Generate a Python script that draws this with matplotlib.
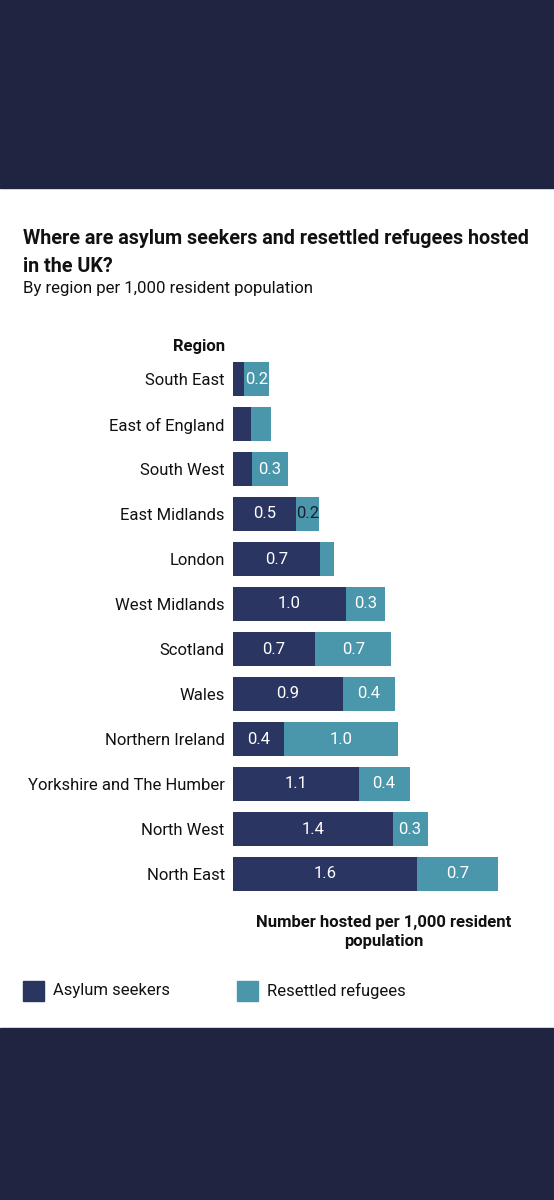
import matplotlib
matplotlib.use("Agg")
import matplotlib.pyplot as plt
from matplotlib.patches import Rectangle

plt.rcParams['font.family'] = ['Roboto', 'DejaVu Sans']

# values (per 1,000 resident population)
regions = ["South East", "East of England", "South West", "East Midlands", "London",
           "West Midlands", "Scotland", "Wales", "Northern Ireland",
           "Yorkshire and The Humber", "North West", "North East"]
asylum = [0.09, 0.155, 0.165, 0.54, 0.74, 0.96, 0.70, 0.94, 0.435, 1.07, 1.36, 1.57]
resettled = [0.22, 0.17, 0.30, 0.19, 0.12, 0.34, 0.65, 0.44, 0.97, 0.435, 0.30, 0.69]

NAVY = "#2b3562"
TEAL = "#4a97ab"
BAND = "#1f2540"
INK = "#111111"

W, H = 554, 1200
fig = plt.figure(figsize=(W / 100, H / 100), dpi=100, facecolor="white")

# dark bands top and bottom
fig.patches.append(Rectangle((0, 1 - 188 / H), 1, 188 / H, transform=fig.transFigure,
                             color=BAND, zorder=0))
fig.patches.append(Rectangle((0, 0), 1, 1 - 1028 / H, transform=fig.transFigure,
                             color=BAND, zorder=0))

# axes: 117.3 px per unit, bars pitched 45 px apart
x0 = 233
ppu = 117.3
xmax = 2.7
top_px = 379 - 22.5
ax = fig.add_axes([x0 / W, 1 - (top_px + 540) / H, xmax * ppu / W, 540 / H])
ax.set_facecolor("none")

y = list(range(len(regions)))
ax.barh(y, asylum, height=0.76, color=NAVY)
ax.barh(y, resettled, left=asylum, height=0.76, color=TEAL)

def put_label(xc, yc, v):
    if v < 0.18:
        return
    col = "white" if v >= 0.2 else "#1a1f35"
    ax.text(xc, yc, f"{v:.1f}", ha="center", va="center", color=col, fontsize=12)

for i in y:
    put_label(asylum[i] / 2, i, asylum[i])
    put_label(asylum[i] + resettled[i] / 2, i, resettled[i])

ax.set_xlim(0, xmax)
ax.set_ylim(-0.5, len(regions) - 0.5)
ax.invert_yaxis()
ax.set_yticks(y)
ax.set_yticklabels(regions, fontsize=12, color=INK)
ax.tick_params(axis="y", length=0, pad=6)
ax.set_xticks([])
for s in ax.spines.values():
    s.set_visible(False)

# texts
fig.text(23 / W, 1 - 239 / H, "Where are asylum seekers and resettled refugees hosted",
         fontsize=14.2, fontweight="bold", color=INK, va="center")
fig.text(23 / W, 1 - 266 / H, "in the UK?",
         fontsize=14.2, fontweight="bold", color=INK, va="center")
fig.text(23 / W, 1 - 288 / H, "By region per 1,000 resident population",
         fontsize=12.1, color=INK, va="center")
fig.text(225 / W, 1 - 346 / H, "Region", fontsize=12, fontweight="bold",
         color=INK, ha="right", va="center")
fig.text(384 / W, 1 - 932 / H, "Number hosted per 1,000 resident\npopulation",
         fontsize=12, fontweight="bold", color=INK, ha="center", va="center",
         linespacing=1.4)

# legend
for lx, label, col in [(23, "Asylum seekers", NAVY), (237, "Resettled refugees", TEAL)]:
    fig.patches.append(Rectangle((lx / W, 1 - 1001 / H), 21 / W, 20 / H,
                                 transform=fig.transFigure, color=col))
    fig.text((lx + 30) / W, 1 - 991 / H, label, fontsize=12, color=INK, va="center")

fig.savefig("out.png", dpi=100, facecolor="white")
